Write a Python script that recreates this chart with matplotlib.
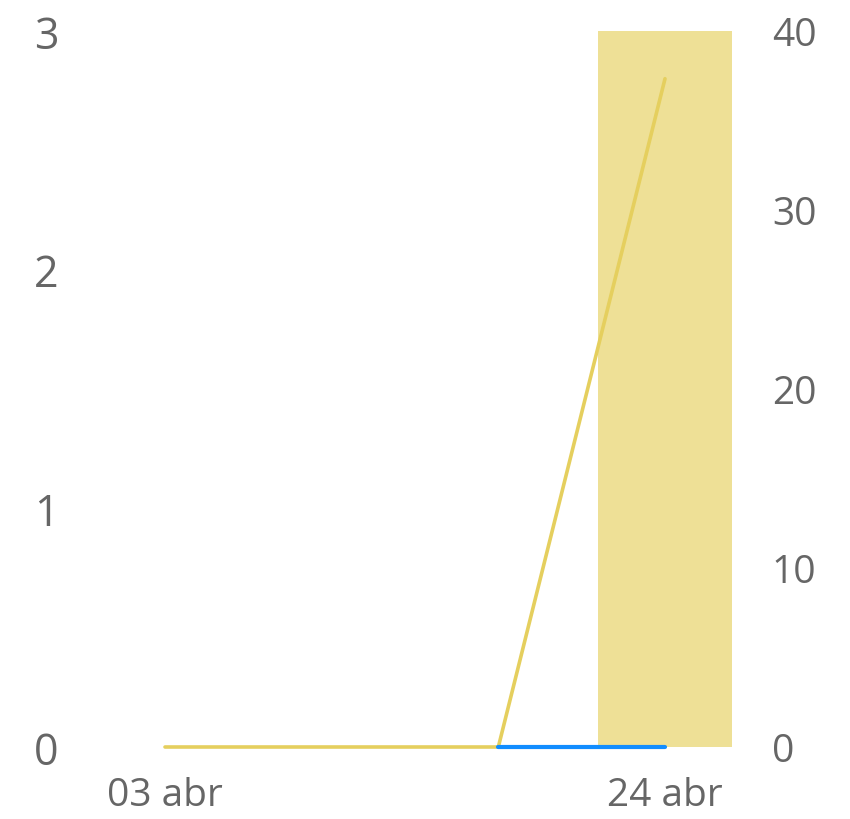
import numpy as np
import matplotlib
matplotlib.use("Agg")
import matplotlib.pyplot as plt

plt.rcParams['font.family'] = ['Open Sans', 'DejaVu Sans']

# data
fechas = ['03 abr', '10 abr', '17 abr', '24 abr']
dias = np.array([0, 7, 14, 21])
linea_amarilla = np.array([0, 0, 0, 2.8])
linea_azul = np.array([np.nan, np.nan, 0, 0])
barras = np.array([0, 0, 0, 40])

gris = '#666666'

fig = plt.figure(figsize=(8.5, 8.2), dpi=100)
ax = fig.add_axes([100/850, 72/820, 640/850, 716/820])
ax2 = ax.twinx()

# bars on right axis, behind
ax2.bar(dias, barras, width=5.63, color='#EEE096', zorder=1)
ax2.set_ylim(0, 40)
ax2.set_yticks([0, 10, 20, 30, 40])

ax.set_zorder(ax2.get_zorder() + 1)
ax.patch.set_visible(False)

ax.plot(dias, linea_amarilla, color='#E5CF5E', lw=2.6, solid_capstyle='round', clip_on=False)
ax.plot(dias, linea_azul, color='#118DFF', lw=3, solid_capstyle='round', clip_on=False)
ax.set_ylim(0, 3)
ax.set_yticks([0, 1, 2, 3])

ax.set_xlim(-2.73, 24.15)
ax.set_xticks([dias[0], dias[-1]])
ax.set_xticklabels([fechas[0], fechas[-1]])

for a in (ax, ax2):
    for s in a.spines.values():
        s.set_visible(False)

ax.tick_params(axis='y', length=0, pad=30, labelsize=31, labelcolor=gris)
ax.tick_params(axis='x', length=0, pad=21, labelsize=28, labelcolor=gris)
ax2.tick_params(axis='y', length=0, pad=23, labelsize=28, labelcolor=gris)

fig.savefig('out.png', dpi=100)
